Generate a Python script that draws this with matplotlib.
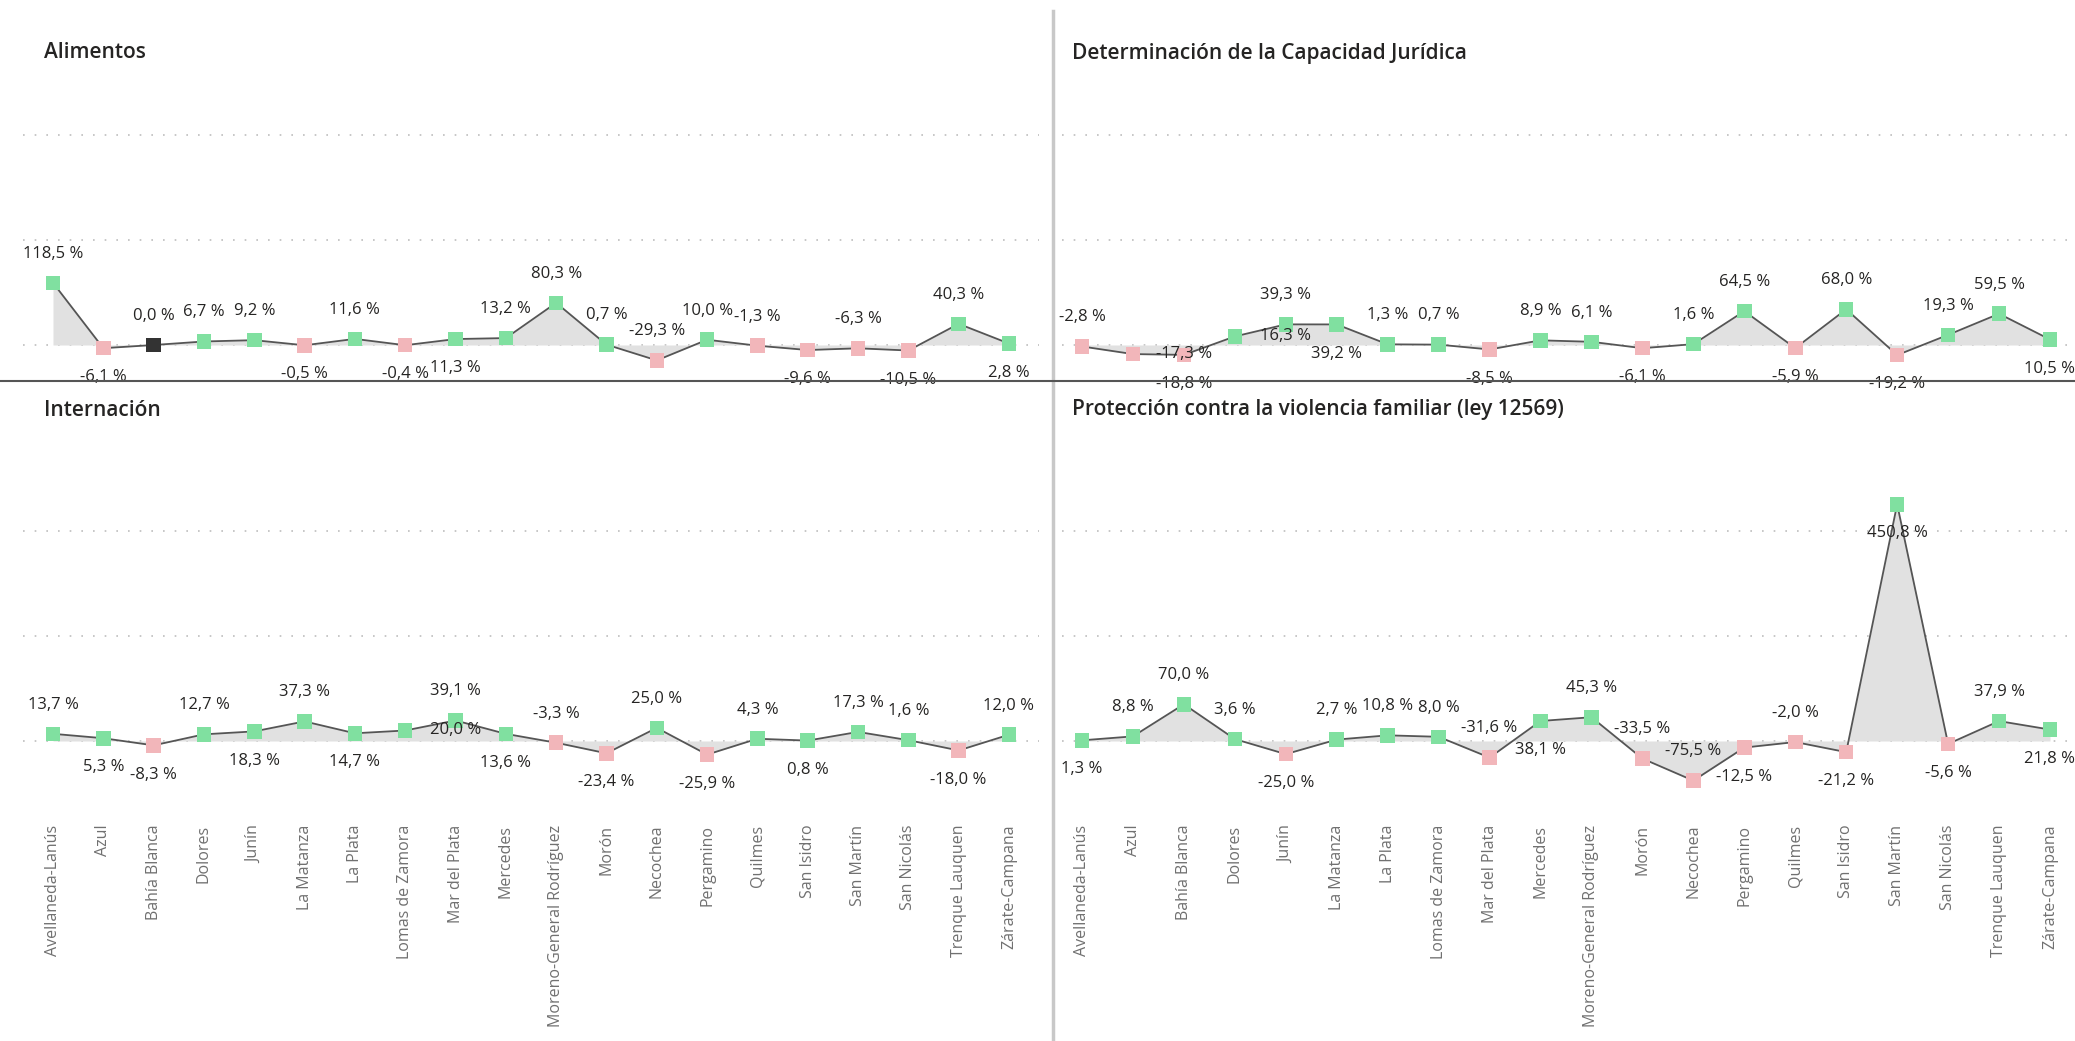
import matplotlib
matplotlib.use('Agg')
import matplotlib.pyplot as plt

plt.rcParams['font.family'] = ['Open Sans', 'DejaVu Sans']

categories = ['Avellaneda-Lanús', 'Azul', 'Bahía Blanca', 'Dolores', 'Junín',
              'La Matanza', 'La Plata', 'Lomas de Zamora', 'Mar del Plata',
              'Mercedes', 'Moreno-General Rodríguez', 'Morón', 'Necochea',
              'Pergamino', 'Quilmes', 'San Isidro', 'San Martín', 'San Nicolás',
              'Trenque Lauquen', 'Zárate-Campana']

alimentos = [118.5, -6.1, 0.0, 6.7, 9.2, -0.5, 11.6, -0.4, 11.3, 13.2,
             80.3, 0.7, -29.3, 10.0, -1.3, -9.6, -6.3, -10.5, 40.3, 2.8]
capacidad = [-2.8, -17.3, -18.8, 16.3, 39.3, 39.2, 1.3, 0.7, -8.5, 8.9,
             6.1, -6.1, 1.6, 64.5, -5.9, 68.0, -19.2, 19.3, 59.5, 10.5]
internacion = [13.7, 5.3, -8.3, 12.7, 18.3, 37.3, 14.7, 20.0, 39.1, 13.6,
               -3.3, -23.4, 25.0, -25.9, 4.3, 0.8, 17.3, 1.6, -18.0, 12.0]
proteccion = [1.3, 8.8, 70.0, 3.6, -25.0, 2.7, 10.8, 8.0, -31.6, 38.1,
              45.3, -33.5, -75.5, -12.5, -2.0, -21.2, 450.8, -5.6, 37.9, 21.8]

titles = ['Alimentos', 'Determinación de la Capacidad Jurídica',
          'Internación', 'Protección contra la violencia familiar (ley 12569)']

# where each data label goes: a = above, b = below, r = next to the following point
label_pos = ['abaaababbaaaaaababab',
             'arbrabaaba' 'abaababaab',
             'abbababrab' 'abababaaba',
             'baaabaaaab' 'aaababbbab']

GREEN = '#80E0A0'
PINK = '#F2B6BA'
ZERO = '#333333'
LINE = '#555555'
FILL = '#E1E1E1'
GRID = '#BDBDBD'

W, H = 2075, 1041
fig = plt.figure(figsize=(W / 100, H / 100), dpi=100)


def add_px_axes(x0, x1, y0, y1):
    return fig.add_axes([x0 / W, 1 - y1 / H, (x1 - x0) / W, (y1 - y0) / H])


# (first category px, last category px, xlim) per column
cols = [(53, 1009, (-0.6, 19.6)), (1082, 2050, (-0.4, 19.5))]
# (zero px, 400 px, ylim) per row
rows = [(345, 135, (-60, 480)), (741, 531, (-125, 480))]

panels = [(alimentos, 0, 0), (capacidad, 0, 1), (internacion, 1, 0), (proteccion, 1, 1)]
x = list(range(len(categories)))

for k, (vals, r, c) in enumerate(panels):
    cx0, cx1, xl = cols[c]
    zy, gy, yl = rows[r]
    per_x = (cx1 - cx0) / 19
    per_y = (zy - gy) / 400
    left = cx0 + xl[0] * per_x
    right = cx0 + xl[1] * per_x
    top = zy - yl[1] * per_y
    bottom = zy - yl[0] * per_y
    ax = add_px_axes(left, right, top, bottom)
    ax.patch.set_visible(False)
    ax.set_xlim(*xl)
    ax.set_ylim(*yl)
    for s in ax.spines.values():
        s.set_visible(False)
    ax.set_yticks([])
    for g in (0, 200, 400):
        ax.axhline(g, color=GRID, lw=1.2, ls=(0, (1, 6)), zorder=1)

    ax.fill_between(x, vals, 0, color=FILL, lw=0, zorder=2)
    ax.plot(x, vals, color=LINE, lw=1.3, zorder=3)
    colors = [GREEN if v > 0 else PINK if v < 0 else ZERO for v in vals]
    ax.scatter(x, vals, marker='s', s=110, c=colors, zorder=4, linewidths=0)

    for i, v in enumerate(vals):
        txt = f'{v:.1f} %'.replace('.', ',')
        p = label_pos[k][i]
        if p == 'a':
            ax.annotate(txt, (i, v), xytext=(0, 21), textcoords='offset points',
                        ha='center', va='center', fontsize=12, color='#252423',
                        zorder=5, annotation_clip=False)
        elif p == 'b':
            ax.annotate(txt, (i, v), xytext=(0, -21), textcoords='offset points',
                        ha='center', va='center', fontsize=12, color='#252423',
                        zorder=5, annotation_clip=False)
        else:
            ax.annotate(txt, (i + 1, v), ha='center', va='center', fontsize=12,
                        color='#252423', zorder=5, annotation_clip=False)

    ax.set_xticks(x)
    if r == 1:
        ax.set_xticklabels(categories, rotation=90, fontsize=11.5, color='#707070',
                           va='top', ha='center')
        ax.tick_params(axis='x', length=0, pad=13)
    else:
        ax.set_xticklabels([])
        ax.tick_params(axis='x', length=0)

    tx = 44 if c == 0 else 1072
    ty = 53 if r == 0 else 410
    fig.text(tx / W, 1 - ty / H, titles[k], fontsize=15, fontweight='semibold',
             color='#252423', ha='left', va='center')

# separators between the panels
fig.add_artist(plt.Line2D([1053 / W, 1053 / W], [0, 1 - 11 / H], color='#C8C8C8', lw=2.5))
fig.add_artist(plt.Line2D([0, 1], [1 - 381 / H, 1 - 381 / H], color='#555555', lw=1.5))

fig.savefig('out.png', dpi=100, facecolor='white')
